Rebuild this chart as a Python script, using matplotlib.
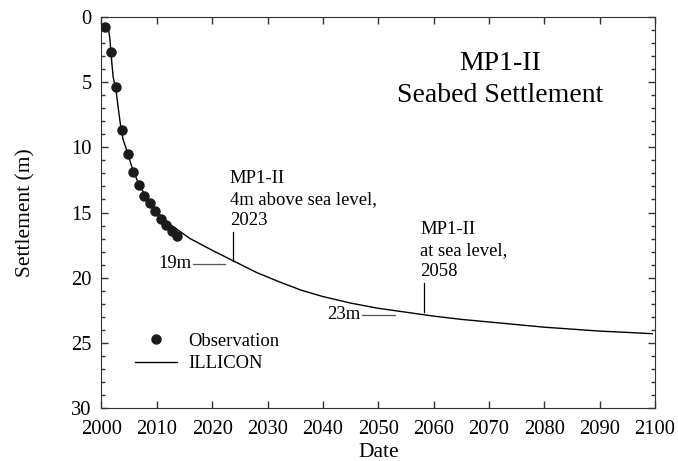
import matplotlib
matplotlib.use("Agg")
import matplotlib.pyplot as plt
from matplotlib.ticker import MultipleLocator

plt.rcParams["font.family"] = ["Liberation Serif", "DejaVu Serif"]

# observed seabed settlement (year, m)
obs_years = [2000.6, 2001.65, 2002.7, 2003.7, 2004.8, 2005.7, 2006.7, 2007.7,
             2008.7, 2009.7, 2010.7, 2011.7, 2012.7, 2013.7]
obs_settlement = [0.75, 2.67, 5.4, 8.7, 10.5, 11.9, 12.9, 13.7,
                  14.3, 14.9, 15.5, 15.95, 16.4, 16.8]

# ILLICON prediction
model_years = [2000.6, 2001.2, 2001.5, 2001.7, 2002.1, 2002.6, 2003.0, 2003.5,
               2003.9, 2004.7, 2005.7, 2006.7, 2007.7, 2008.7, 2009.7, 2010.7,
               2011.7, 2012.5, 2014, 2016, 2020, 2024, 2028, 2032, 2036, 2040,
               2045, 2050, 2055, 2060, 2065, 2070, 2075, 2080, 2085, 2090,
               2095, 2099.5]
model_settlement = [0.75, 0.78, 1.6, 2.7, 4.6, 5.5, 6.9, 8.5,
                    9.4, 10.4, 11.8, 12.75, 13.55, 14.2, 14.75, 15.25,
                    15.7, 15.95, 16.4, 17.0, 17.9, 18.75, 19.6, 20.3, 20.95, 21.45,
                    21.95, 22.35, 22.65, 22.95, 23.2, 23.4, 23.6, 23.8, 23.95, 24.1,
                    24.2, 24.3]

# milestones
mark_years = [2023.8, 2058.2]
mark_depths = [18.95, 22.85]
mark_labels = ["19m", "23m"]
mark_texts = ["MP1-II\n4m above sea level,\n2023", "MP1-II\nat sea level,\n2058"]
leader_start = [2016.5, 2047.0]
leader_end = [2022.3, 2053.0]

fig = plt.figure(figsize=(6.78, 4.61), dpi=100)
ax = fig.add_axes([0.1497, 0.115, 0.8165, 0.848])

ax.plot(model_years, model_settlement, color="black", lw=1.0, label="ILLICON", zorder=2)
ax.plot(obs_years, obs_settlement, "o", color="#1a1a1a", ms=6.5, label="Observation", zorder=3)

for yr, d, lab, txt, x0, x1 in zip(mark_years, mark_depths, mark_labels, mark_texts,
                                   leader_start, leader_end):
    ax.plot([yr, yr], [d - 2.45, d - 0.25], color="black", lw=0.9)
    ax.plot([x0, x1], [d, d], color="#555555", lw=0.9)
    ax.text(x0 - 0.3, d, lab, ha="right", va="center", fontsize=13.4)
    ax.text(yr - 0.6, d - 2.7, txt, ha="left", va="bottom", fontsize=13.4,
            linespacing=1.3)

ax.text(0.72, 0.84, "MP1-II\nSeabed Settlement", transform=ax.transAxes,
        ha="center", va="center", fontsize=20, linespacing=1.33)

ax.set_xlim(2000, 2100)
ax.set_ylim(30, 0)
ax.xaxis.set_major_locator(MultipleLocator(10))
ax.yaxis.set_major_locator(MultipleLocator(5))
ax.yaxis.set_minor_locator(MultipleLocator(1))
ax.tick_params(which="both", direction="in", top=True, right=True,
               labelsize=14.8, colors="#333333", labelcolor="black")
ax.tick_params(which="major", length=5, width=1)
ax.tick_params(which="minor", length=3, width=1)
ax.tick_params(axis="x", pad=9)
ax.tick_params(axis="y", pad=7)
for s in ax.spines.values():
    s.set_color("#333333")

ax.set_xlabel("Date", fontsize=15.5)
ax.set_ylabel("Settlement (m)", fontsize=15.5)
ax.xaxis.set_label_coords(0.5, -0.09)
ax.yaxis.set_label_coords(-0.12, 0.5)

handles, labels = ax.get_legend_handles_labels()
ax.legend(handles[::-1], labels[::-1], loc="upper left", bbox_to_anchor=(0.06, 0.193),
          frameon=False, fontsize=13.4, handlelength=2.26, handletextpad=0.6,
          labelspacing=0.3, borderpad=0, borderaxespad=0)

fig.savefig("out.png", dpi=100)
